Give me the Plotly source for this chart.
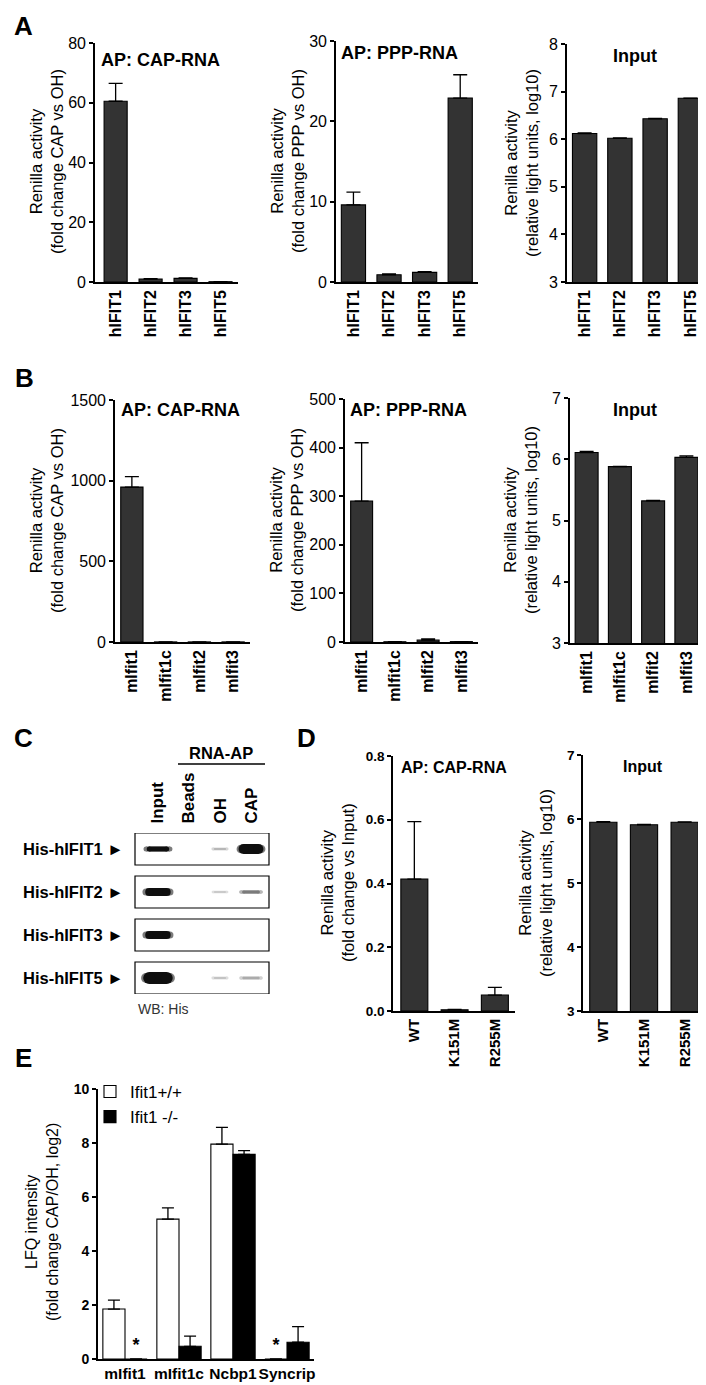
import plotly.graph_objects as go

W, H = 706, 1385
FONT = "Liberation Sans, Arial, sans-serif"

# ---------------- data ----------------
a_cats = ["hIFIT1", "hIFIT2", "hIFIT3", "hIFIT5"]
a_cap_vals = [60.5, 1.0, 1.2, 0.1]
a_cap_err = [6.0, 0.15, 0.15, 0.0]
a_ppp_vals = [9.6, 0.9, 1.2, 22.9]
a_ppp_err = [1.6, 0.12, 0.1, 2.9]
a_input_vals = [6.12, 6.02, 6.43, 6.86]
a_input_err = [0.01, 0.005, 0.005, 0.005]

b_cats = ["mIfit1", "mIfit1c", "mIfit2", "mIfit3"]
b_cap_vals = [960, 0.5, 0.5, 0.5]
b_cap_err = [65, 0, 0, 0]
b_ppp_vals = [290, 0.5, 4.0, 0.8]
b_ppp_err = [120, 0, 2.5, 0]
b_input_vals = [6.11, 5.88, 5.32, 6.03]
b_input_err = [0.02, 0.005, 0.01, 0.025]

d_cats = ["WT", "K151M", "R255M"]
d_cap_vals = [0.414, 0.004, 0.05]
d_cap_err = [0.18, 0.001, 0.024]
d_input_vals = [5.95, 5.91, 5.95]
d_input_err = [0.008, 0.005, 0.005]

e_cats = ["mIfit1", "mIfit1c", "Ncbp1", "Syncrip"]
e_wt_vals = [1.85, 5.18, 7.96, 0.0]
e_wt_err = [0.33, 0.42, 0.62, 0.0]
e_ko_vals = [0.0, 0.47, 7.58, 0.62]
e_ko_err = [0.0, 0.38, 0.14, 0.58]
e_wt_nd = [False, False, False, True]
e_ko_nd = [True, False, False, False]

blot_lanes = ["Input", "Beads", "OH", "CAP"]
blot_proteins = ["His-hIFIT1", "His-hIFIT2", "His-hIFIT3", "His-hIFIT5"]
band_hifit1_thick = [5, 0, 2, 10]
band_hifit2_thick = [8, 0, 1.5, 3]
band_hifit3_thick = [8, 0, 0, 0]
band_hifit5_thick = [12, 0, 2, 2.5]
band_hifit1_dark = [1.0, 0, 0.3, 1.0]
band_hifit2_dark = [1.0, 0, 0.25, 0.55]
band_hifit3_dark = [1.0, 0, 0, 0]
band_hifit5_dark = [1.0, 0, 0.25, 0.35]
band_lane_halfwidth = [0.47, 0.4, 0.28, 0.4]

# ---------------- helpers ----------------
fig = go.Figure()
layout = dict(
    width=W, height=H, margin=dict(l=0, r=0, t=0, b=0),
    paper_bgcolor="white", plot_bgcolor="white",
    font=dict(family=FONT, color="black"),
    barmode="overlay", showlegend=True,
)
annotations = []
shapes = []


def xdom(a, b):
    return [a / W, b / W]


def ydom(t, b):
    return [1 - b / H, 1 - t / H]


def axname(i, letter):
    return f"{letter}axis" if i == 1 else f"{letter}axis{i}"


def axref(i, letter):
    return letter if i == 1 else f"{letter}{i}"


def add_axes(i, xpx, ypx, xrange, cats, yrange, ytickvals, ytickfont, xtickfont,
             xangle=-90, ytickfmt=None, xticklen=0):
    layout[axname(i, "x")] = dict(
        domain=xdom(*xpx), range=xrange, anchor=axref(i, "y"),
        tickvals=list(range(len(cats))), ticktext=cats, tickangle=xangle,
        tickfont=xtickfont, showline=True, linecolor="black", linewidth=1.6,
        ticks="outside" if xticklen else "", ticklen=xticklen,
        tickcolor="rgba(0,0,0,0)", showgrid=False, zeroline=False, automargin=False,
    )
    ya = dict(
        domain=ydom(*ypx), range=yrange, anchor=axref(i, "x"),
        tickvals=ytickvals, tickfont=ytickfont, showline=True, linecolor="black",
        linewidth=1.6, ticks="outside", ticklen=4, tickwidth=1.5, tickcolor="black",
        showgrid=False, zeroline=False, automargin=False,
    )
    if ytickfmt:
        ya["tickformat"] = ytickfmt
    layout[axname(i, "y")] = ya


def add_bars(i, vals, err, width, color="#333333", offset=None, name=None,
             showlegend=False, capw=6):
    x = list(range(len(vals)))
    fig.add_trace(go.Bar(
        x=x, y=vals, width=width, offset=offset, name=name, showlegend=showlegend,
        marker=dict(color=color, line=dict(color="black", width=1.1)),
        error_y=dict(type="data", symmetric=False, array=err,
                     arrayminus=[0] * len(vals), color="black", thickness=1.3,
                     width=capw),
        xaxis=axref(i, "x"), yaxis=axref(i, "y"), hoverinfo="skip",
    ))


def ann(text, x, y, size, bold=False, xanchor="center", yanchor="middle",
        angle=0, color="black"):
    annotations.append(dict(
        text=f"<b>{text}</b>" if bold else text, x=x / W, y=1 - y / H,
        xref="paper", yref="paper", showarrow=False, textangle=angle,
        font=dict(size=size, family=FONT, color=color),
        xanchor=xanchor, yanchor=yanchor,
    ))


ytf_ab = dict(size=16, family=FONT, color="black")
xtf_ab = dict(size=16, family=FONT, color="black", weight="bold")
ytf_d = dict(size=13.5, family=FONT, color="black", weight="bold")
xtf_d = dict(size=15, family=FONT, color="black", weight="bold")

# ---------------- Panel A ----------------
add_axes(1, (87, 230), (35, 274), [-0.59, 3.5], a_cats, [0, 80], [0, 20, 40, 60, 80], ytf_ab, xtf_ab)
add_bars(1, a_cap_vals, a_cap_err, 0.66, capw=7)
add_axes(2, (328, 470), (33, 274), [-0.49, 3.5], a_cats, [0, 30], [0, 10, 20, 30], ytf_ab, xtf_ab)
add_bars(2, a_ppp_vals, a_ppp_err, 0.68, capw=7)
add_axes(3, (559, 700), (36, 274), [-0.5, 3.5], a_cats, [3, 8], [3, 4, 5, 6, 7, 8], ytf_ab, xtf_ab)
add_bars(3, a_input_vals, a_input_err, 0.69, capw=7)

# ---------------- Panel B ----------------
add_axes(4, (107, 242), (392, 634), [-0.5, 3.5], b_cats, [0, 1500], [0, 500, 1000, 1500], ytf_ab, xtf_ab)
add_bars(4, b_cap_vals, b_cap_err, 0.66, capw=7)
add_axes(5, (337, 470), (391, 634), [-0.5, 3.5], b_cats, [0, 500], [0, 100, 200, 300, 400, 500], ytf_ab, xtf_ab)
add_bars(5, b_ppp_vals, b_ppp_err, 0.66, capw=7)
add_axes(6, (562, 695), (390, 635), [-0.5, 3.5], b_cats, [3, 7], [3, 4, 5, 6, 7], ytf_ab, xtf_ab)
add_bars(6, b_input_vals, b_input_err, 0.69, capw=7)

# ---------------- Panel C (western blot) ----------------
bx = (127, 261)
by = (825, 986)
layout["xaxis7"] = dict(
    domain=xdom(*bx), range=[-0.74, 3.58], anchor="y7", side="top",
    tickvals=list(range(len(blot_lanes))), ticktext=blot_lanes, tickangle=-90,
    tickfont=dict(size=17, family=FONT, color="black", weight="bold"),
    ticks="outside", ticklen=5, tickcolor="rgba(0,0,0,0)",
    showline=False, showgrid=False, zeroline=False, automargin=False,
)
layout["yaxis7"] = dict(
    domain=ydom(*by), range=[3.372, -0.372], anchor="x7",
    tickvals=list(range(len(blot_proteins))), ticktext=[p + " ►" for p in blot_proteins],
    tickfont=dict(size=16.5, family=FONT, color="black", weight="bold"),
    ticks="outside", ticklen=7, tickcolor="rgba(0,0,0,0)",
    showline=False, showgrid=False, zeroline=False, automargin=False,
)
band_thick = [band_hifit1_thick, band_hifit2_thick, band_hifit3_thick, band_hifit5_thick]
band_dark = [band_hifit1_dark, band_hifit2_dark, band_hifit3_dark, band_hifit5_dark]
for r in range(len(blot_proteins)):
    shapes.append(dict(type="rect", xref="x7 domain", yref="y7", x0=0, x1=1,
                       y0=r - 0.372, y1=r + 0.372, line=dict(color="black", width=1.2),
                       fillcolor="rgba(0,0,0,0)"))
    for l in range(len(blot_lanes)):
        t = band_thick[r][l]
        d = band_dark[r][l]
        if t <= 0:
            continue
        g = int(round(15 + (255 - 15) * (1 - d)))
        gh = int(round(g + (255 - g) * 0.45))
        hw = band_lane_halfwidth[l]
        # soft outer band (rounded ends)
        fig.add_trace(go.Scatter(
            x=[l - hw * 0.82, l + hw * 0.82], y=[r, r], mode="lines+markers",
            line=dict(color=f"rgb({gh},{gh},{gh})", width=t * 0.7 + 1.5),
            marker=dict(size=t * 0.7 + 1.5, color=f"rgb({gh},{gh},{gh})", line=dict(width=0)),
            xaxis="x7", yaxis="y7", showlegend=False, hoverinfo="skip"))
        # dense core, thicker in the middle
        fig.add_trace(go.Scatter(
            x=[l - hw * 0.6, l + hw * 0.6], y=[r, r], mode="lines+markers",
            line=dict(color=f"rgb({g},{g},{g})", width=t),
            marker=dict(size=t, color=f"rgb({g},{g},{g})", line=dict(width=0)),
            xaxis="x7", yaxis="y7", showlegend=False, hoverinfo="skip"))

ann("RNA-AP", 213, 745, 16.5, bold=True)
shapes.append(dict(type="line", xref="paper", yref="paper", x0=170 / W, x1=257 / W,
                   y0=1 - 756 / H, y1=1 - 756 / H, line=dict(color="black", width=1.5)))
ann("WB: His", 128, 1001, 14, xanchor="left", color="#333333")

# ---------------- Panel D ----------------
add_axes(8, (385, 507), (748, 1003), [-0.53, 2.5], d_cats, [0, 0.8], [0, 0.2, 0.4, 0.6, 0.8],
         ytf_d, xtf_d, ytickfmt=".1f")
add_bars(8, d_cap_vals, d_cap_err, 0.67, capw=7)
add_axes(9, (575, 697), (747, 1003), [-0.5, 2.5], d_cats, [3, 7], [3, 4, 5, 6, 7], ytf_d, xtf_d)
add_bars(9, d_input_vals, d_input_err, 0.67, capw=7)

# ---------------- Panel E ----------------
add_axes(10, (90, 306), (1081, 1351), [-0.5, 3.5], e_cats, [0, 10], [0, 2, 4, 6, 8, 10],
         dict(size=14, family=FONT, color="black", weight="bold"),
         dict(size=15.5, family=FONT, color="black", weight="bold"), xangle=0, xticklen=0)
add_bars(10, e_wt_vals, e_wt_err, 0.41, color="white", offset=-0.41, name="Ifit1+/+",
         showlegend=True, capw=6)
add_bars(10, e_ko_vals, e_ko_err, 0.41, color="black", offset=0.0, name="Ifit1 -/-",
         showlegend=True, capw=6)
ast_x = [i - 0.205 for i, nd in enumerate(e_wt_nd) if nd] + [i + 0.205 for i, nd in enumerate(e_ko_nd) if nd]
fig.add_trace(go.Scatter(
    x=ast_x, y=[0.45] * len(ast_x), mode="text", text=["<b>*</b>"] * len(ast_x),
    textfont=dict(size=18, family=FONT, color="black"), textposition="middle center",
    xaxis="x10", yaxis="y10", showlegend=False, hoverinfo="skip"))

layout["legend"] = dict(
    x=82 / W, y=1 - 1066 / H, xanchor="left", yanchor="top",
    font=dict(size=17, family=FONT, color="black"), bgcolor="rgba(0,0,0,0)",
    tracegroupgap=0, itemwidth=30, traceorder="normal",
)

# ---------------- titles & labels ----------------
for letter, x, y in [("A", 15, 18), ("B", 16, 370), ("C", 15, 730), ("D", 298, 730), ("E", 15, 1050)]:
    ann(letter, x, y, 26, bold=True)

ann("AP: CAP-RNA", 91, 52, 18, bold=True, xanchor="left")
ann("AP: PPP-RNA", 331, 45, 18, bold=True, xanchor="left")
ann("Input", 627, 48, 18, bold=True)
ann("AP: CAP-RNA", 111, 402, 18, bold=True, xanchor="left")
ann("AP: PPP-RNA", 340, 402, 18, bold=True, xanchor="left")
ann("Input", 627, 402, 18, bold=True)
ann("AP: CAP-RNA", 391, 759, 16, bold=True, xanchor="left")
ann("Input", 635, 758, 16, bold=True)

ann("Renilla activity<br>(fold change CAP vs OH)", 38, 154, 16.5, angle=-90)
ann("Renilla activity<br>(fold change PPP vs OH)", 279, 153, 16.5, angle=-90)
ann("Renilla activity<br>(relative light units, log10)", 513, 155, 16.5, angle=-90)
ann("Renilla activity<br>(fold change CAP vs OH)", 39, 513, 16.5, angle=-90)
ann("Renilla activity<br>(fold change PPP vs OH)", 279, 512, 16.5, angle=-90)
ann("Renilla activity<br>(relative light units, log10)", 513, 512, 16.5, angle=-90)
ann("Renilla activity<br>(fold change vs Input)", 329, 875, 16.5, angle=-90)
ann("Renilla activity<br>(relative light units, log10)", 527, 875, 16.5, angle=-90)
ann("LFQ intensity<br>(fold change CAP/OH, log2)", 34, 1214, 16, angle=-90)

layout["annotations"] = annotations
layout["shapes"] = shapes
fig.update_layout(**layout)
fig.write_html("out.html")
